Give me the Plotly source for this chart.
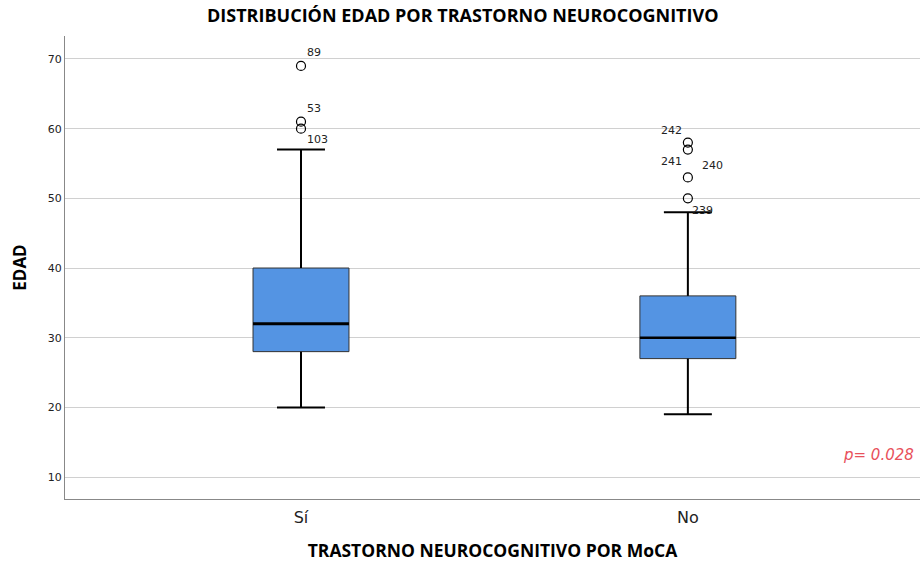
import plotly.graph_objects as go

# Data
categories = ["Sí", "No"]
q1 = [28, 27]
medians = [32, 30]
q3 = [40, 36]
lower_whisker = [20, 19]
upper_whisker = [57, 48]

outlier_cat = ["Sí", "Sí", "Sí", "No", "No", "No", "No"]
outlier_vals = [69, 61, 60, 58, 57, 53, 50]
outlier_ids = ["89", "53", "103", "242", "241", "240", "239"]

p_text = "p= 0.028"

cat_pos = {c: i for i, c in enumerate(categories)}
xs = [cat_pos[c] for c in categories]
BOX_W = 0.248
CAP_W = 0.124

fig = go.Figure()

# whiskers (drawn first, behind boxes)
for i in range(len(categories)):
    x = xs[i]
    wx = [x, x, None, x, x, None, x - CAP_W / 2, x + CAP_W / 2, None, x - CAP_W / 2, x + CAP_W / 2]
    wy = [q3[i], upper_whisker[i], None, q1[i], lower_whisker[i], None,
          upper_whisker[i], upper_whisker[i], None, lower_whisker[i], lower_whisker[i]]
    fig.add_trace(go.Scatter(x=wx, y=wy, mode="lines", line=dict(color="black", width=2),
                             showlegend=False, hoverinfo="skip", cliponaxis=False))

fig.add_trace(go.Box(
    x=xs, q1=q1, median=medians, q3=q3,
    lowerfence=q1, upperfence=q3,
    fillcolor="#5494E3", line=dict(color="#333333", width=1),
    width=BOX_W, whiskerwidth=0, boxpoints=False, showlegend=False,
    hoverinfo="skip",
))

# thicker median lines
for i, m in enumerate(medians):
    fig.add_trace(go.Scatter(
        x=[xs[i] - BOX_W / 2, xs[i] + BOX_W / 2], y=[m, m], mode="lines",
        line=dict(color="black", width=3 if i == 0 else 2.5), showlegend=False, hoverinfo="skip"))

ox = [cat_pos[c] for c in outlier_cat]
fig.add_trace(go.Scatter(
    x=ox, y=outlier_vals, mode="markers",
    marker=dict(symbol="circle-open", size=9, color="black", line=dict(width=1.2)),
    showlegend=False, hoverinfo="skip"))

# outlier labels (offsets in pixels)
label_offsets = {
    "89": (4, 13, "left"),
    "53": (4, 13, "left"),
    "103": (4, -11, "left"),
    "242": (-4, 12, "right"),
    "241": (-4, -12, "right"),
    "240": (12, 12, "left"),
    "239": (2, -12, "left"),
}
for x, v, lab in zip(ox, outlier_vals, outlier_ids):
    dx, dy, anc = label_offsets[lab]
    fig.add_annotation(x=x, y=v, text=lab, showarrow=False, xshift=dx, yshift=dy,
                       xanchor=anc, yanchor="middle",
                       font=dict(family="DejaVu Sans", size=11, color="#222222"))

fig.add_annotation(x=1, xref="paper", y=13.2, yref="y", text="<i>" + p_text + "</i>",
                   showarrow=False, xanchor="right", xshift=-4, yanchor="middle",
                   font=dict(family="DejaVu Sans", size=15, color="#E8515B"))

fig.update_layout(
    width=920, height=562,
    margin=dict(l=65, r=0, t=36, b=63, autoexpand=False),
    paper_bgcolor="white", plot_bgcolor="white",
    title=dict(text="<b>DISTRIBUCIÓN EDAD POR TRASTORNO NEUROCOGNITIVO</b>",
               x=0.503, xanchor="center", y=0.972, yanchor="middle",
               font=dict(family="Open Sans", size=18, color="black")),
    xaxis=dict(range=[-0.61, 1.6], tickvals=xs, ticktext=categories, automargin=False,
               showgrid=False, zeroline=False, showline=True, linecolor="#888888",
               linewidth=1, ticks="", ticklabelstandoff=4,
               tickfont=dict(family="DejaVu Sans", size=16, color="#222222"),
               title=dict(text="<b>TRASTORNO NEUROCOGNITIVO POR MoCA</b>",
                          font=dict(family="Open Sans", size=17.5, color="black"), standoff=20)),
    yaxis=dict(range=[6.85, 73.3], tickvals=[10, 20, 30, 40, 50, 60, 70], automargin=False,
               showgrid=True, gridcolor="#D0D0D0", gridwidth=1, zeroline=False,
               showline=True, linecolor="#888888", linewidth=1, ticks="",
               tickfont=dict(family="DejaVu Sans", size=11, color="#222222"),
               title=dict(text="<b>EDAD</b>", font=dict(family="Open Sans", size=17, color="black"),
                          standoff=16)),
)

fig.write_html("out.html", config={"displayModeBar": False},
               post_script="document.body.style.margin='0';document.body.style.overflow='hidden';")
